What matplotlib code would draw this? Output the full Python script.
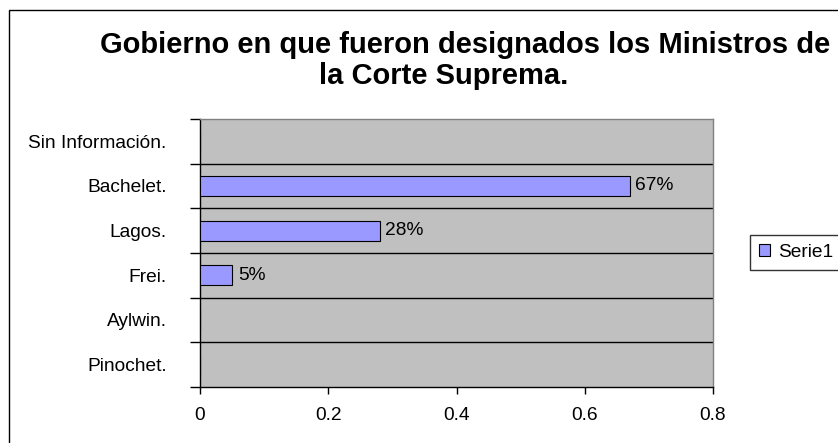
import numpy as np
import matplotlib
matplotlib.use("Agg")
import matplotlib.pyplot as plt
from matplotlib.patches import Rectangle

plt.rcParams['font.family'] = ['Liberation Sans', 'DejaVu Sans']

# datos
categorias = ["Pinochet.", "Aylwin.", "Frei.", "Lagos.", "Bachelet.", "Sin Información."]
valores = [0.0, 0.0, 0.05, 0.28, 0.67, 0.0]
etiquetas = ["", "", "5%", "28%", "67%", ""]
xticks = [0, 0.2, 0.4, 0.6, 0.8]
xlabels = ["0", "0.2", "0.4", "0.6", "0.8"]
titulo_1 = "Gobierno en que fueron designados los Ministros de"
titulo_2 = "la Corte Suprema."

fig = plt.figure(figsize=(8.38, 4.43), dpi=100)
ax = fig.add_axes([200/838, 1 - 387/443, 513/838, 268/443])
ax.set_facecolor("#C0C0C0")

pos = np.arange(len(categorias))
ax.barh(pos, valores, height=0.45, color="#9999FF", edgecolor="black", linewidth=0.8, zorder=3)
for p, v, t in zip(pos, valores, etiquetas):
    if t:
        ax.text(v + 0.009, p, t, va="center", ha="left", fontsize=13.8)

ax.set_xlim(0, 0.8)
ax.set_ylim(-0.5, len(categorias) - 0.5)
ax.set_xticks(xticks)
ax.set_xticklabels(xlabels, fontsize=13.8)
ax.set_yticks(pos)
ax.set_yticklabels(categorias, fontsize=13.8)
ax.tick_params(axis="y", length=0, pad=24)
ax.tick_params(axis="x", length=5, width=1, pad=9.5, direction="out")

# lineas entre categorias
bordes = np.arange(-0.5, len(categorias), 1.0)
ax.set_yticks(bordes, minor=True)
ax.tick_params(axis="y", which="minor", length=7, width=1, direction="out")
for b in bordes[1:-1]:
    ax.axhline(b, color="black", linewidth=1, zorder=2)

ax.spines["left"].set_color("black")
ax.spines["bottom"].set_color("black")
ax.spines["top"].set_color("#808080")
ax.spines["right"].set_color("#808080")
for s in ax.spines.values():
    s.set_linewidth(1)

# titulo en dos lineas (la segunda va algo mas a la izquierda, como en Excel)
fig.text(465.5/838, 1 - 53/443, titulo_1, ha="center", va="baseline", fontsize=21, fontweight="bold")
fig.text(443.5/838, 1 - 84/443, titulo_2, ha="center", va="baseline", fontsize=21, fontweight="bold")

leg = fig.legend(handles=[Rectangle((0, 0), 1, 1, facecolor="#9999FF", edgecolor="black", linewidth=0.8)],
                 labels=["Serie1"], loc="center left", bbox_to_anchor=(750/838, 1 - 252.5/443),
                 fontsize=13.8, frameon=True, fancybox=False, borderaxespad=0,
                 handlelength=0.6, handleheight=0.6, handletextpad=0.4, borderpad=0.45)
leg.get_frame().set_edgecolor("black")
leg.get_frame().set_linewidth(1)

# borde exterior del grafico
fig.add_artist(Rectangle((8.5/838, -0.1), 1.2, 1 - 10.5/443 + 0.1, transform=fig.transFigure,
                         fill=False, edgecolor="black", linewidth=1))

fig.savefig("out.png", dpi=100)
